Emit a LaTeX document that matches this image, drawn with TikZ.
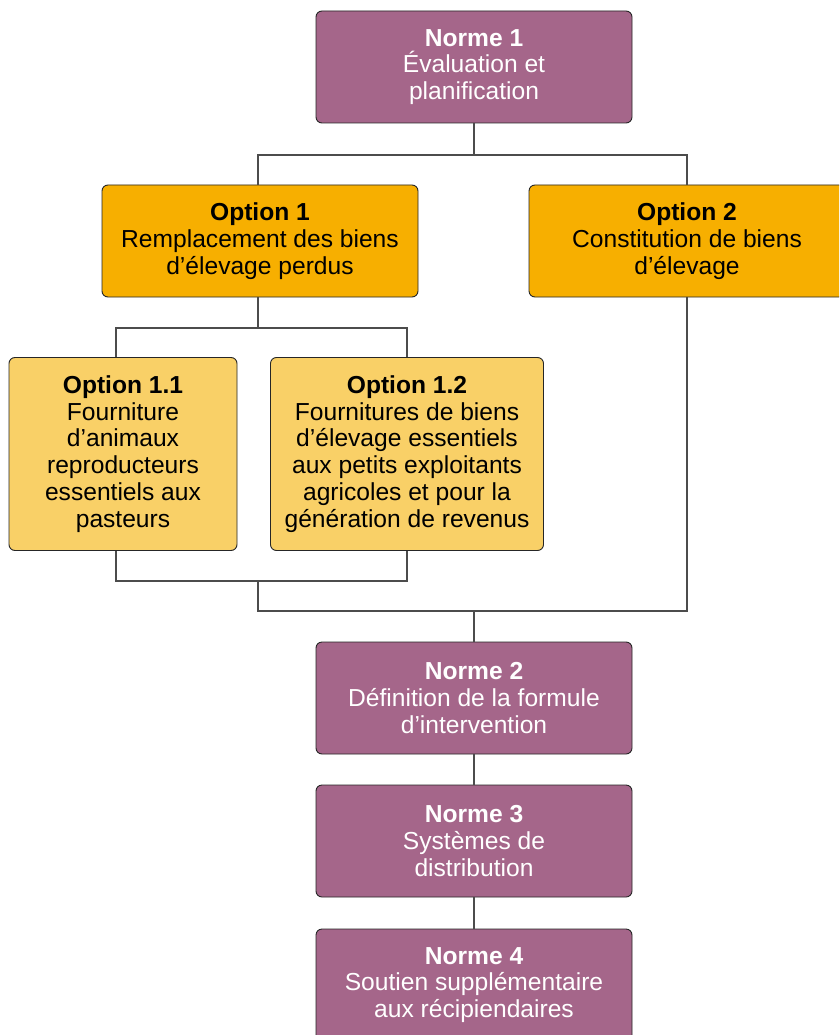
\documentclass[tikz,border=0pt]{standalone}
\usepackage{fontspec}
\setmainfont{Liberation Sans}
\definecolor{normecol}{HTML}{A5668A}
\definecolor{optcol}{HTML}{F7AF00}
\definecolor{subcol}{HTML}{F9D067}
\tikzset{
  box/.style={draw=black!85,line width=0.9pt,rounded corners=6pt,align=center,
    inner sep=0pt,font=\fontsize{24.6}{26.9}\selectfont},
  norme/.style={box,fill=normecol,text=white,minimum width=316pt,minimum height=112pt},
  opt/.style={box,fill=optcol,minimum width=316pt,minimum height=112pt},
  subopt/.style={box,fill=subcol,minimum height=193pt},
  link/.style={draw=black!70,line width=1.1pt}
}
\begin{document}
\begin{tikzpicture}[x=1pt,y=-1pt]
  \clip (0,0) rectangle (839,1035);
  \fill[white] (0,0) rectangle (839,1035);
  % boxes
  \node[norme] (n1) at (474,67) {\textbf{Norme 1}\\Évaluation et\\planification};
  \node[opt] (o1) at (260,241) {\textbf{Option 1}\\Remplacement des biens\\d’élevage perdus};
  \node[opt] (o2) at (687,241) {\textbf{Option 2}\\Constitution de biens\\d’élevage};
  \node[subopt,minimum width=228pt] (o11) at (123,454)
    {\textbf{Option 1.1}\\Fourniture\\d’animaux\\reproducteurs\\essentiels aux\\pasteurs};
  \node[subopt,minimum width=273pt] (o12) at (407,454)
    {\textbf{Option 1.2}\\Fournitures de biens\\d’élevage essentiels\\aux petits exploitants\\agricoles et pour la\\génération de revenus};
  \node[norme] (n2) at (474,698) {\textbf{Norme 2}\\Définition de la formule\\d’intervention};
  \node[norme] (n3) at (474,841) {\textbf{Norme 3}\\Systèmes de\\distribution};
  \node[norme] (n4) at (474,985) {\textbf{Norme 4}\\Soutien supplémentaire\\aux récipiendaires};
  % junctions
  \coordinate (j1) at (474,155);
  \coordinate (j2) at (258,328);
  \coordinate (j3) at (258,581);
  \coordinate (j4) at (474,611);
  \draw[link] (n1.south) -- (j1);
  \draw[link] ([xshift=-2pt]o1.north) |- (j1) -| (o2.north);
  \draw[link] ([xshift=-2pt]o1.south) -- (j2);
  \draw[link] ([xshift=-7pt]o11.north) |- (j2) -| (o12.north);
  \draw[link] ([xshift=-7pt]o11.south) |- (j3) -| (o12.south);
  \draw[link] (j3) |- (j4);
  \draw[link] (o2.south) |- (j4);
  \draw[link] (j4) -- (n2.north);
  \draw[link] (n2) -- (n3);
  \draw[link] (n3) -- (n4);
\end{tikzpicture}
\end{document}
